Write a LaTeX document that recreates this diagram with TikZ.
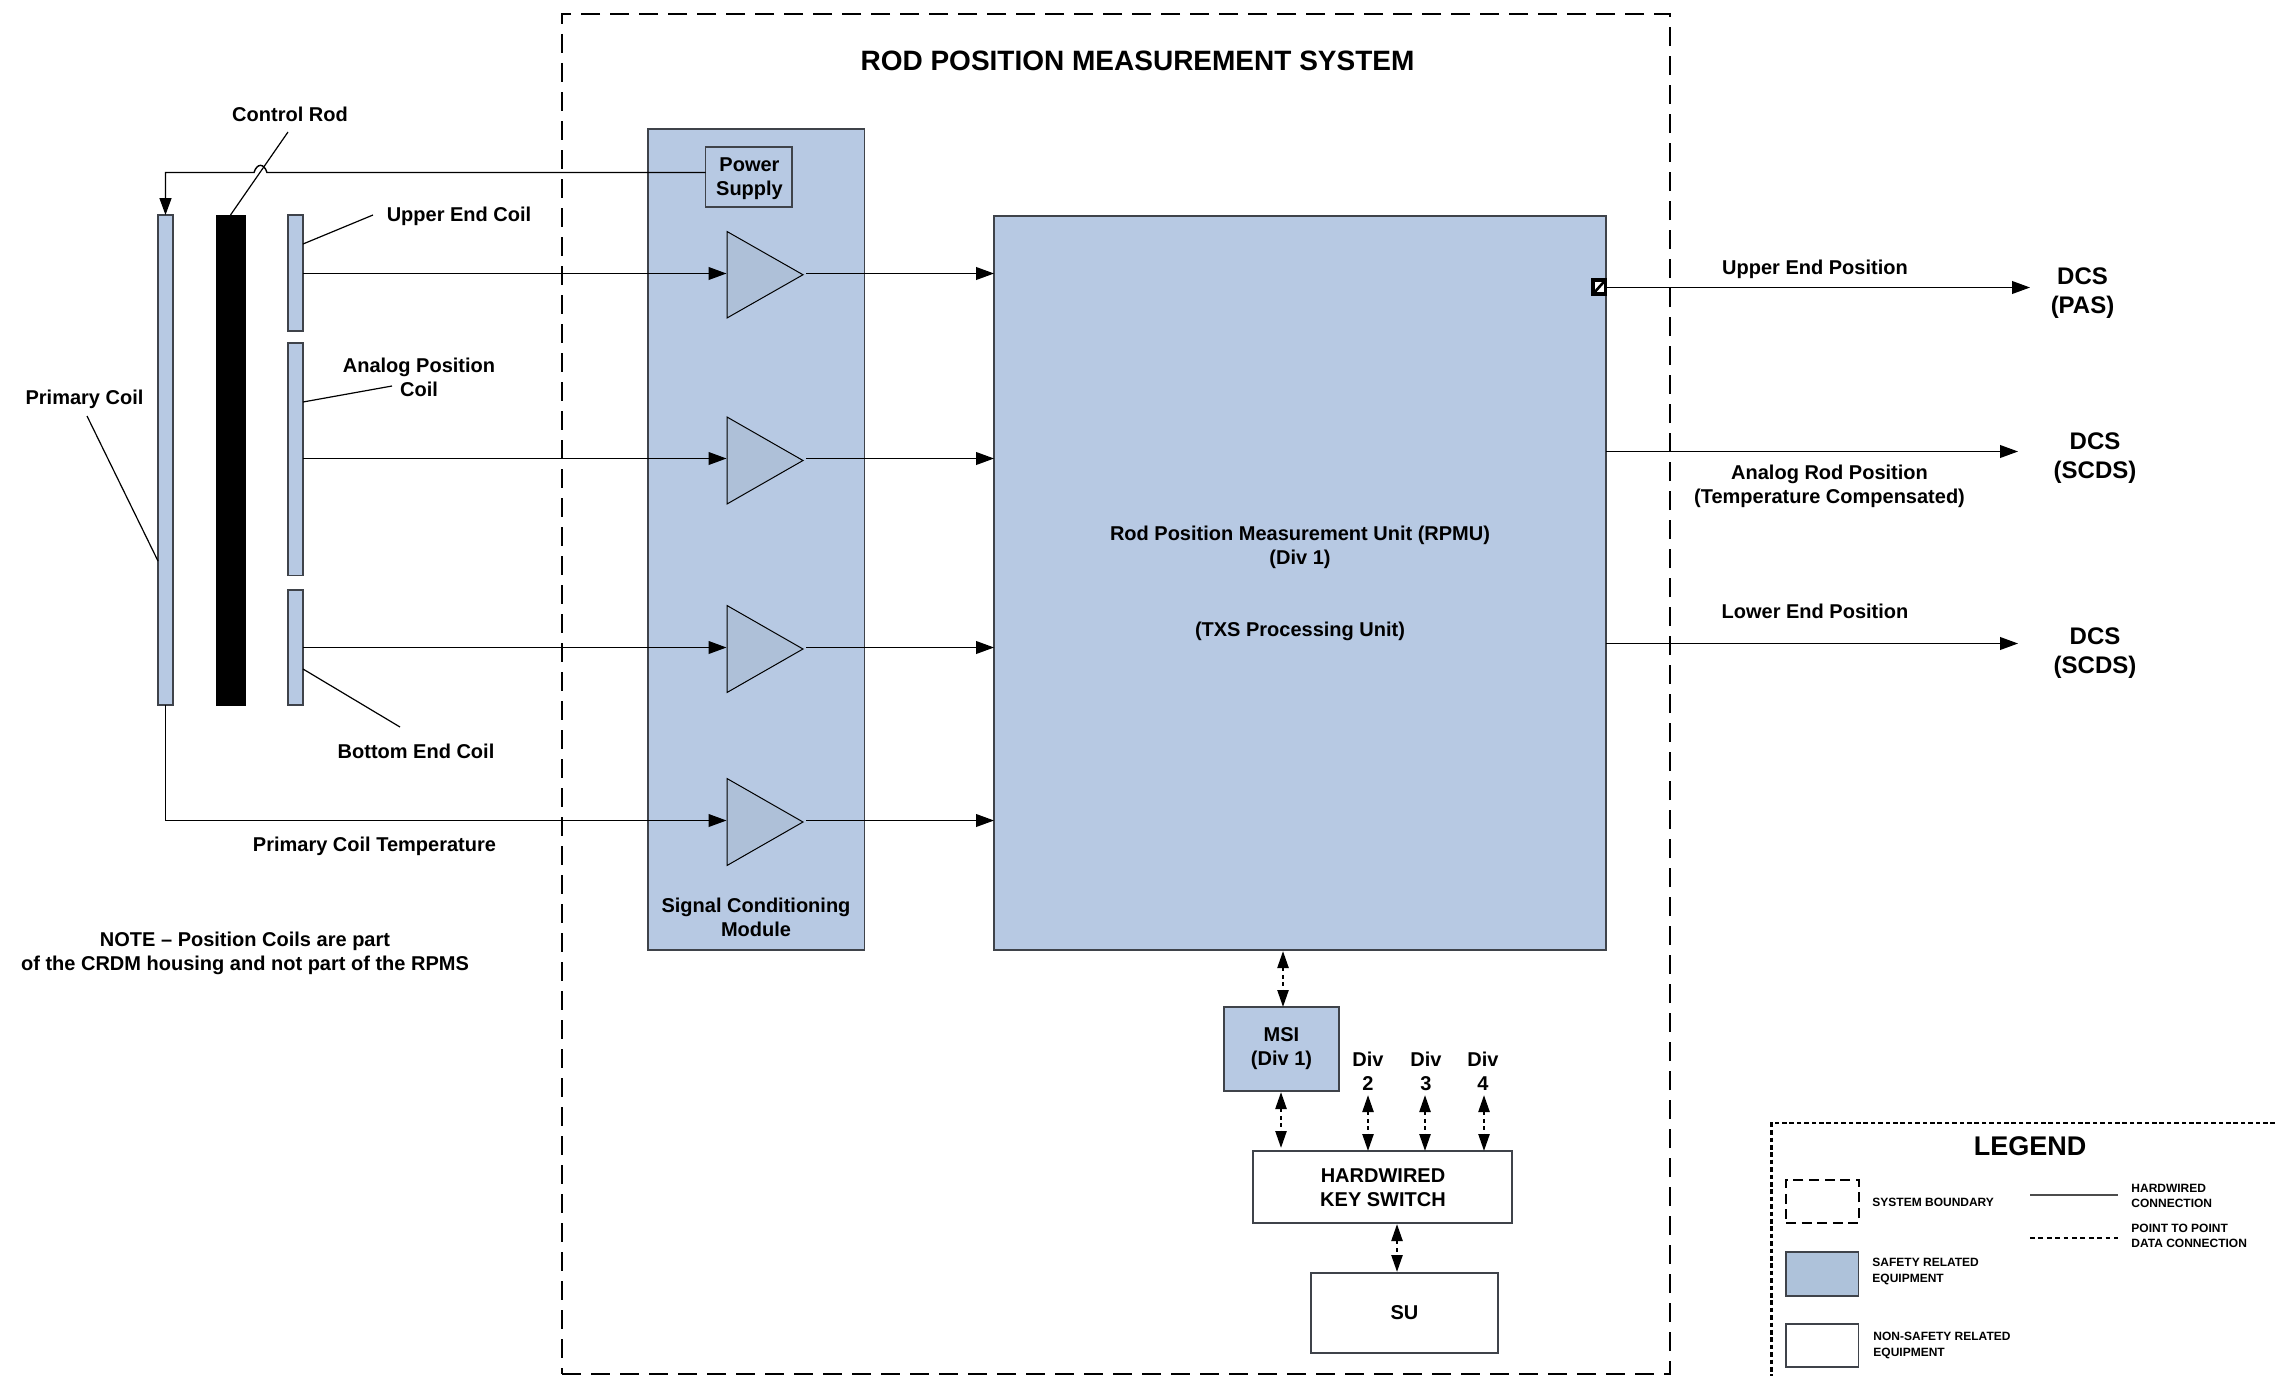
\documentclass[tikz,border=0pt]{standalone}
\usepackage{fontspec}
\setmainfont{Liberation Sans}
\usetikzlibrary{arrows.meta}
\definecolor{safety}{HTML}{B7C9E3}
\definecolor{ampfill}{HTML}{AEC0D8}
\definecolor{legfill}{HTML}{AEC2DA}
\definecolor{edge}{HTML}{3F434A}
\newcommand\bx[7]{%
  \pgfmathsetmacro\bxw{abs(#5-#3)*0.5}%
  \pgfmathsetmacro\bxh{abs(#6-#4)*0.5}%
  \node[#1,minimum width=\bxw pt,minimum height=\bxh pt,inner sep=0pt,outer sep=0pt,align=center]
    (#2) at ({(#3+#5)/2},{(#4+#6)/2}) {#7};}
\tikzset{
  x=0.5pt,y=-0.5pt,
  txt/.style={font=\fontsize{10}{11.9}\selectfont\bfseries,align=center,inner sep=0pt},
  dcstxt/.style={font=\fontsize{12}{14.2}\selectfont\bfseries,align=center,inner sep=0pt},
  bigtxt/.style={font=\fontsize{13.5}{16}\selectfont\bfseries,align=center,inner sep=0pt},
  titletxt/.style={font=\fontsize{14}{16}\selectfont\bfseries,align=center,inner sep=0pt},
  legtxt/.style={font=\fontsize{6}{7.6}\selectfont\bfseries,align=left,anchor=west,inner sep=0pt},
  safebox/.style={draw=edge,line width=0.7pt,fill=safety,txt},
  plainbox/.style={draw=edge,line width=0.7pt,fill=white,txt},
  ampghost/.style={},
  amptri/.style={draw=black,line width=0.5pt,fill=ampfill},
  wire/.style={line width=0.7pt,black},
  sig/.style={wire,-{Triangle[length=9pt,width=6.4pt]}},
  leader/.style={line width=0.6pt,black},
  datalink/.style={line width=1.2pt,black,dash pattern=on 2pt off 1.7pt,
    {Triangle[length=8.5pt,width=5.5pt]}-{Triangle[length=8.5pt,width=5.5pt]}},
  boundary/.style={draw=black,line width=1.3pt,dash pattern=on 9.5pt off 5pt},
}
\begin{document}
\begin{tikzpicture}
\useasboundingbox (0,0) rectangle (2275,1376);
\fill[white] (0,0) rectangle (2275,1376);
% system boundary
\bx{boundary}{sys}{562}{14}{1670}{1374}{}
\node[titletxt] (title) at (1137.5,60.5) {ROD POSITION MEASUREMENT SYSTEM};
% coils
\bx{safebox}{pc}{158}{215}{173}{705}{}
\bx{draw=black,fill=black}{rod}{216}{215}{245}{705}{}
\bx{safebox}{uc}{288}{215}{303}{331}{}
\bx{safebox}{ac}{288}{343}{303}{575.5}{}
\bx{safebox}{bc}{288}{590}{303}{705}{}
% module
\bx{safebox}{mod}{648}{129}{864.5}{950}{}
\bx{safebox}{ps}{705.5}{147}{792}{207}{}
\node[txt] (pslab) at (749.5,178.5) {Power\\Supply};
\node[txt] (modlab) at (756,917) {Signal Conditioning\\Module};
% amplifiers
\bx{ampghost}{a1}{727}{231.5}{803}{318}{}
\bx{ampghost}{a2}{727}{417}{803}{504}{}
\bx{ampghost}{a3}{727}{605.5}{803}{692.5}{}
\bx{ampghost}{a4}{727}{778.5}{803}{865.5}{}
\foreach \a in {a1,a2,a3,a4}{
  \draw[amptri] (\a.north west) -- (\a.east) -- (\a.south west) -- cycle;
}
% RPMU
\bx{safebox}{rpmu}{994}{216}{1606}{950}{}
\node[txt] (rpmulab) at (1300,547.5) {Rod Position Measurement Unit (RPMU)\\(Div 1)};
\node[txt] (txslab) at (1300,631.5) {(TXS Processing Unit)};
% output mark
\bx{draw=black,line width=1.6pt,fill=white}{mark}{1593}{280}{1605.5}{294}{}
\draw[line width=1.3pt,black] (mark.south west) -- (mark.north east);
% lower boxes
\bx{safebox}{msi}{1224}{1007}{1339}{1091}{}
\node[txt] (msilab) at (1281.5,1048.5) {MSI\\(Div 1)};
\bx{plainbox}{key}{1253}{1151}{1512}{1223}{}
\node[txt] (keylab) at (1383,1187.5) {HARDWIRED\\KEY SWITCH};
\bx{plainbox}{su}{1311}{1273}{1498}{1353}{SU}
\node[txt] (d2) at (1368,1071) {Div\\2};
\node[txt] (d3) at (1426,1071) {Div\\3};
\node[txt] (d4) at (1483,1071) {Div\\4};
% signal wires
\coordinate (r1) at (726.5,273.5);
\coordinate (r2) at (726.5,458.5);
\coordinate (r3) at (726.5,647.5);
\coordinate (r4) at (726.5,820.5);
\coordinate (u1) at (806,273.5);
\coordinate (u2) at (806,458.5);
\coordinate (u3) at (806,647.5);
\coordinate (u4) at (806,820.5);
\draw[sig] (uc.east |- r1) -- (r1);
\draw[sig] (ac.east |- r2) -- (r2);
\draw[sig] (bc.east |- r3) -- (r3);
\draw[sig] (pc.south) |- (r4);
\draw[sig] (u1) -- (u1 -| rpmu.west);
\draw[sig] (u2) -- (u2 -| rpmu.west);
\draw[sig] (u3) -- (u3 -| rpmu.west);
\draw[sig] (u4) -- (u4 -| rpmu.west);
% power wire with jump
\coordinate (pw) at (705.5,172.5);
\coordinate (jr) at (267,172.5);
\coordinate (jl) at (254,172.5);
\draw[wire,-{Triangle[length=8.5pt,width=6pt]}] (pw) -- (jr)
  .. controls (264,163) and (257,163) .. (jl) -| (pc.north);
% leaders
\node[txt] (lrod) at (290,114.5) {Control Rod};
\coordinate (lrodend) at (288,132);
\draw[leader] (lrodend) -- (rod.north);
\node[txt] (luc) at (459,216) {Upper End Coil};
\coordinate (lucend) at (373,215);
\coordinate (lucs) at (303,244);
\draw[leader] (lucs) -- (lucend);
\node[txt] (lac) at (419,377.5) {Analog Position\\Coil};
\coordinate (lacend) at (392,386);
\coordinate (lacs) at (303,402);
\draw[leader] (lacs) -- (lacend);
\node[txt] (lbc) at (416,751) {Bottom End Coil};
\coordinate (lbcend) at (400,727);
\coordinate (lbcs) at (303,669);
\draw[leader] (lbcs) -- (lbcend);
\node[txt] (lpc) at (84.5,399) {Primary Coil};
\coordinate (lpcend) at (87,416);
\coordinate (lpcs) at (158,561);
\draw[leader] (lpcs) -- (lpcend);
\node[txt] (lpt) at (374.5,846.5) {Primary Coil Temperature};
\node[txt] (note) at (245,953.5) {NOTE – Position Coils are part\\of the CRDM housing and not part of the RPMS};
% outputs
\node[dcstxt] (dcs1) at (2082.5,293) {DCS\\(PAS)};
\node[dcstxt] (dcs2) at (2095,458) {DCS\\(SCDS)};
\node[dcstxt] (dcs3) at (2095,653) {DCS\\(SCDS)};
\coordinate (o1) at (2030,287.5);
\coordinate (s2) at (1606,451.5);
\coordinate (o2) at (2018,451.5);
\coordinate (s3) at (1606,643.5);
\coordinate (o3) at (2018,643.5);
\draw[sig] (mark.east |- o1) -- (o1);
\draw[sig] (s2) -- (o2);
\draw[sig] (s3) -- (o3);
\node[txt] (lo1) at (1815,269) {Upper End Position};
\node[txt] (lo2) at (1829.5,486.5) {Analog Rod Position\\(Temperature Compensated)};
\node[txt] (lo3) at (1815,611) {Lower End Position};
% data links
\coordinate (m1) at (1283,951);
\coordinate (m2) at (1283,1007);
\draw[datalink] (m1) -- (m2);
\coordinate (k1) at (1281,1092);
\coordinate (k2) at (1281,1148);
\draw[datalink] (k1) -- (k2);
\coordinate (k3) at (1368,1095);
\coordinate (k4) at (1425,1095);
\coordinate (k5) at (1484,1095);
\draw[datalink] (k3) -- (k3 |- key.north);
\draw[datalink] (k4) -- (k4 |- key.north);
\draw[datalink] (k5) -- (k5 |- key.north);
\coordinate (k6) at (1397,1224);
\coordinate (k7) at (1397,1272);
\draw[datalink] (k6) -- (k7);
% legend
\coordinate (lg1) at (2275,1123);
\coordinate (lg2) at (1771.5,1123);
\coordinate (lg3) at (1771.5,1376);
\draw[line width=1.1pt,black,dash pattern=on 2.3pt off 1.4pt] (lg1) -- (lg2) -- (lg3);
\node[bigtxt] (legt) at (2030,1146) {LEGEND};
\bx{draw=black,line width=0.6pt,dash pattern=on 5pt off 2.8pt}{lb1}{1786}{1180}{1859}{1223}{}
\bx{draw=edge,line width=0.6pt,fill=legfill}{lb2}{1786}{1252}{1858.5}{1296}{}
\bx{draw=edge,line width=0.6pt,fill=white}{lb3}{1786}{1324}{1858.5}{1367}{}
\node[legtxt] (lt1) at (1872,1202) {SYSTEM BOUNDARY};
\node[legtxt] (lt2) at (1872,1271.5) {SAFETY RELATED\\EQUIPMENT};
\node[legtxt] (lt3) at (1873,1345.5) {NON-SAFETY RELATED\\EQUIPMENT};
\coordinate (ll1) at (2030,1195);
\coordinate (ll2) at (2118,1195);
\coordinate (ll3) at (2030,1238);
\coordinate (ll4) at (2118,1238);
\draw[line width=0.6pt,black!70] (ll1) -- (ll2);
\draw[line width=1pt,black,dash pattern=on 2.4pt off 1.8pt] (ll3) -- (ll4);
\node[legtxt] (lt4) at (2131,1196) {HARDWIRED\\CONNECTION};
\node[legtxt] (lt5) at (2131,1235.5) {POINT TO POINT\\DATA CONNECTION};
\end{tikzpicture}
\end{document}
